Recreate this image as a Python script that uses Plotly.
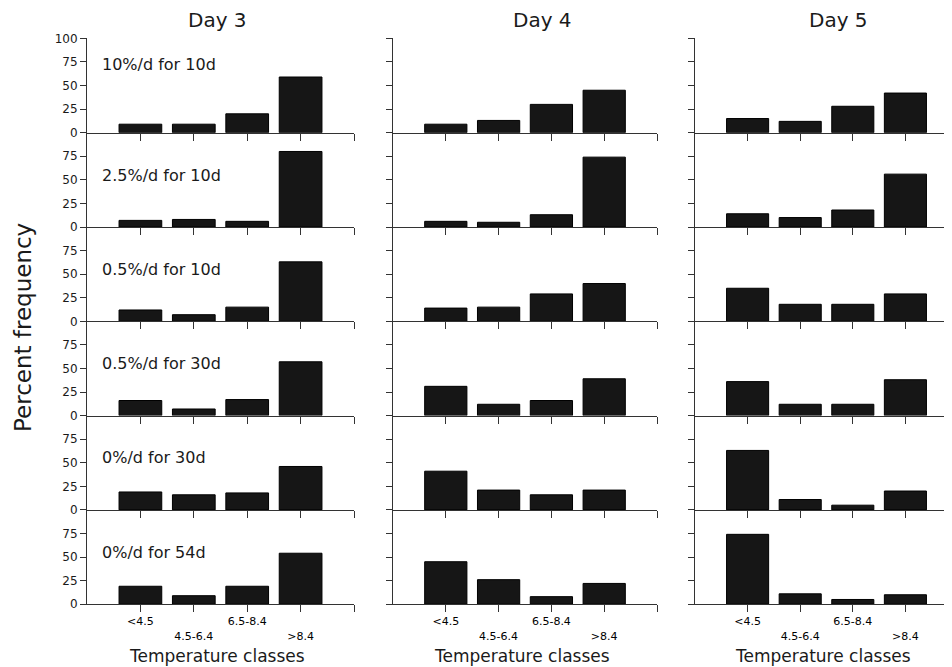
import plotly.graph_objects as go

# ---------------- data ----------------
categories = ["<4.5", "4.5-6.4", "6.5-8.4", ">8.4"]
tick_text = ["<4.5", " <br>4.5-6.4", "6.5-8.4", " <br>>8.4", ""]
days = ["Day 3", "Day 4", "Day 5"]
treatments = ["10%/d for 10d", "2.5%/d for 10d", "0.5%/d for 10d",
              "0.5%/d for 30d", "0%/d for 30d", "0%/d for 54d"]

day3 = [[9, 9, 20, 59],
        [7, 8, 6, 80],
        [12, 7, 15, 63],
        [16, 7, 17, 57],
        [19, 16, 18, 46],
        [19, 9, 19, 54]]
day4 = [[9, 13, 30, 45],
        [6, 5, 13, 74],
        [14, 15, 29, 40],
        [31, 12, 16, 39],
        [41, 21, 16, 21],
        [45, 26, 8, 22]]
day5 = [[15, 12, 28, 42],
        [14, 10, 18, 56],
        [35, 18, 18, 29],
        [36, 12, 12, 38],
        [63, 11, 5, 20],
        [74, 11, 5, 10]]
all_days = [day3, day4, day5]

# ---------------- layout geometry (page pixels) ----------------
OFF = 8                      # default page body margin
W, H = 952 - OFF, 667 - OFF  # figure size


def px(xp):
    return (xp - OFF) / W


def py(yp):
    return (H - (yp - OFF)) / H


col_px = [(87, 354, 5.0), (393, 657, 5.0), (695, 952, 4.886)]
row_zero = [132.7, 227.0, 321.3, 415.6, 509.9, 604.2]
row_h = 94.4
FONT = "DejaVu Sans"
INK = "#1a1a1a"

fig = go.Figure()
layout = {}
xpos = [i + 1 for i in range(len(categories))]

n = 0
for r in range(6):
    for c in range(3):
        n += 1
        xa = "x" if n == 1 else f"x{n}"
        ya = "y" if n == 1 else f"y{n}"
        vals = all_days[c][r]
        fig.add_trace(go.Bar(
            x=xpos, y=vals, xaxis=xa, yaxis=ya, width=0.8,
            marker=dict(color="#161616", line=dict(color="#000000", width=1)),
            showlegend=False, hoverinfo="x+y"))
        x0, x1, xmax = col_px[c]
        z = row_zero[r]
        bottom = r == 5
        layout["xaxis" if n == 1 else f"xaxis{n}"] = dict(
            domain=[px(x0), min(px(x1), 1.0)], range=[0, xmax], anchor=ya,
            tickvals=[1, 2, 3, 4, 5], ticktext=tick_text,
            showticklabels=bottom, ticks="outside", ticklen=7, tickwidth=1,
            tickcolor="#333", showline=True, linecolor="#333", linewidth=1,
            showgrid=False, zeroline=False,
            tickfont=dict(family=FONT, size=11, color="#000"),
        )
        layout["yaxis" if n == 1 else f"yaxis{n}"] = dict(
            domain=[py(z), py(z - row_h)], range=[0, 100], anchor=xa,
            tickvals=[0, 25, 50, 75, 100] if r == 0 else [0, 25, 50, 75],
            showticklabels=(c == 0), ticks="outside", ticklen=6, tickwidth=1,
            tickcolor="#333", showline=True, linecolor="#333", linewidth=1,
            showgrid=False, zeroline=False,
            tickfont=dict(family=FONT, size=12, color=INK),
        )

annotations = []
# treatment labels in Day 3 column
for r, t in enumerate(treatments):
    n = r * 3 + 1
    xa = "x" if n == 1 else f"x{n}"
    ya = "y" if n == 1 else f"y{n}"
    annotations.append(dict(
        text=t, x=0.25, y=72 if r == 0 else 55, xref=xa, yref=ya,
        xanchor="left", yanchor="middle", showarrow=False,
        font=dict(family=FONT, size=16, color=INK)))

# Day titles
for d, xc in zip(days, [217, 542, 838]):
    annotations.append(dict(
        text=d, x=px(xc), y=py(20), xref="paper", yref="paper",
        xanchor="center", yanchor="middle", showarrow=False,
        font=dict(family=FONT, size=20, color=INK)))

# x titles
for xc in [217, 522, 823]:
    annotations.append(dict(
        text="Temperature classes", x=px(xc), y=py(656),
        xref="paper", yref="paper", xanchor="center", yanchor="middle",
        showarrow=False, font=dict(family=FONT, size=17, color=INK)))

# y title
annotations.append(dict(
    text="Percent frequency", x=px(23), y=py(328), xref="paper",
    yref="paper", xanchor="center", yanchor="middle", textangle=-90,
    showarrow=False, font=dict(family=FONT, size=23, color=INK)))

fig.update_layout(
    width=W, height=H, margin=dict(l=0, r=0, t=0, b=0),
    paper_bgcolor="white", plot_bgcolor="rgba(0,0,0,0)",
    template="none", annotations=annotations, bargap=0.2,
    **layout)

fig.write_html("out.html")
